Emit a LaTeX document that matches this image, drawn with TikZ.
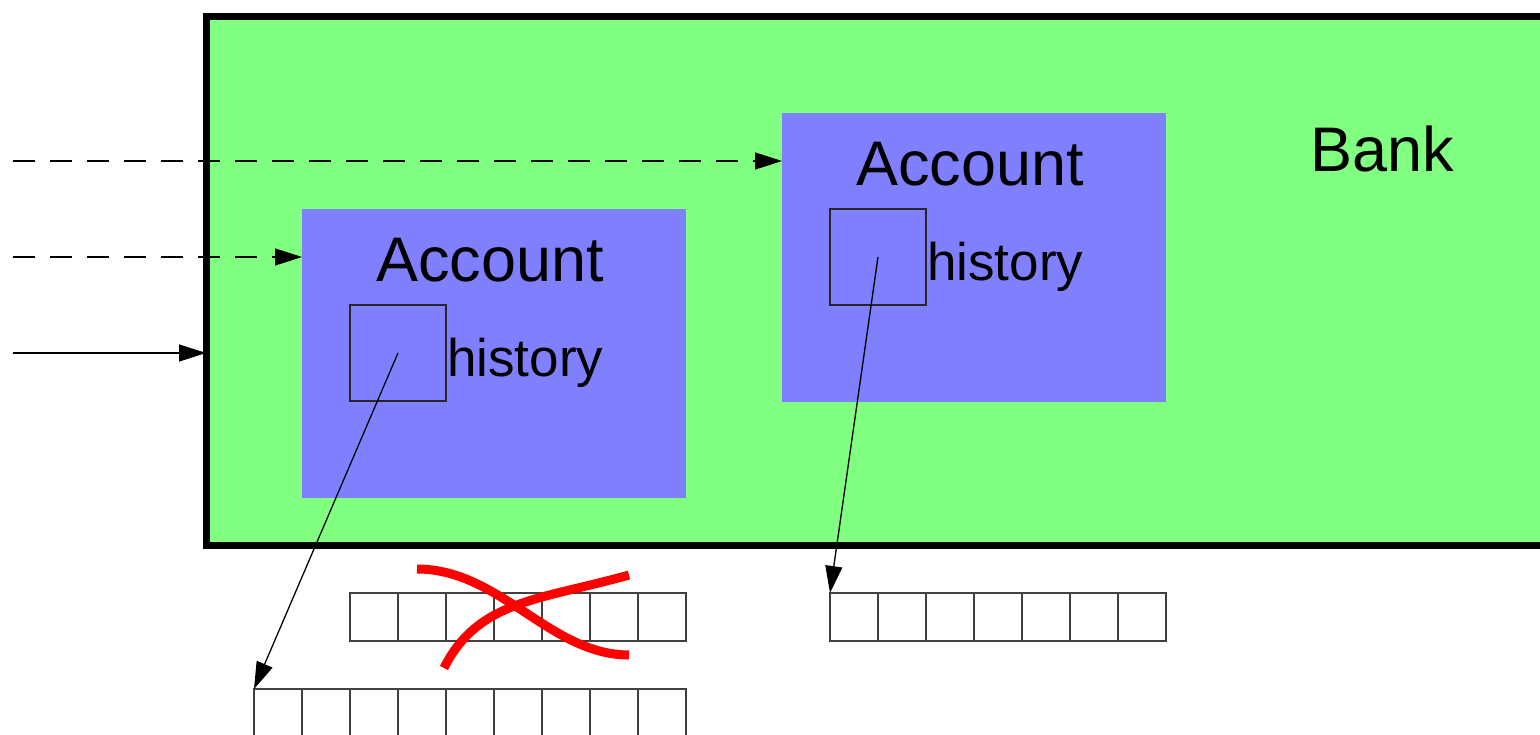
\documentclass[tikz,border=0pt]{standalone}
\usepackage{fontspec}
\setmainfont{Liberation Sans}
\usetikzlibrary{arrows.meta}
\definecolor{bankgreen}{HTML}{80FF80}
\definecolor{acctblue}{HTML}{8080FF}
\definecolor{crossred}{HTML}{FF0000}

\begin{document}
\begin{tikzpicture}[x=1pt,y=-1pt,
  thinline/.style={line width=1.3pt},
  tipped/.style={thinline,-{Triangle[length=27pt,width=17pt]}},
  dashline/.style={dash pattern=on 22pt off 15pt},
  acctbox/.style={fill=acctblue, minimum width=384pt, minimum height=289pt,
    inner sep=0pt, outer sep=0pt},
  histbox/.style={draw=black!85, thinline, minimum size=96pt, inner sep=0pt, outer sep=0pt},
  cell/.style={draw=black!75, thinline, minimum size=48pt, inner sep=0pt, outer sep=0pt},
  bigtext/.style={font=\fontsize{63}{72}\selectfont, inner sep=0pt},
  histtext/.style={font=\fontsize{53}{60}\selectfont, inner sep=0pt, anchor=base west},
  cross/.style={draw=crossred, line width=9pt}]

\useasboundingbox (0,0) rectangle (1540,735);
\clip (0,0) rectangle (1540,735);

% the bank
\node[draw=black, line width=7pt, fill=bankgreen, anchor=north west,
      minimum width=1400pt, minimum height=528pt, inner sep=0pt, outer sep=0pt]
      (bank) at (206,17) {};
\node[bigtext, anchor=base west] (banklabel) at (1310,172) {Bank};

% the two accounts
\node[acctbox] (acc1) at (494,353.5) {};
\node[acctbox] (acc2) at (974,257.5) {};
\node[bigtext, anchor=base] (acc1label) at (490,282) {Account};
\node[bigtext, anchor=base] (acc2label) at (970,186) {Account};

% history slots
\node[histbox] (hist1) at (398,353) {};
\node[histbox] (hist2) at (878,257) {};
\node[histtext] (hist1label) at (447,377) {history};
\node[histtext] (hist2label) at (927,281) {history};

% history arrays
\foreach \i in {1,...,7} {
  \node[cell] (old-\i) at ({350+48*\i-24},617) {};
  \node[cell] (right-\i) at ({830+48*\i-24},617) {};
}
\foreach \i in {1,...,9} {
  \node[cell] (new-\i) at ({254+48*\i-24},713) {};
}

% incoming references
\coordinate (in1) at (13,161);
\coordinate (in2) at (13,257);
\coordinate (in3) at (13,353);
\draw[tipped, dashline] (in1) -- (acc2.west |- in1);
\draw[tipped, dashline] (in2) -- (acc1.west |- in2);
\draw[tipped] (in3) -- (bank.west |- in3);

% history pointers
\draw[tipped] (hist1.center) -- (new-1.north west);
\draw[tipped] (hist2.center) -- (right-1.north west);

% the discarded array is crossed out
\draw[cross] (417,569) .. controls (500,569) and (550,655) .. (629,655);
\draw[cross] (444,668) .. controls (478,600) and (540,600) .. (629,575);
\end{tikzpicture}
\end{document}
